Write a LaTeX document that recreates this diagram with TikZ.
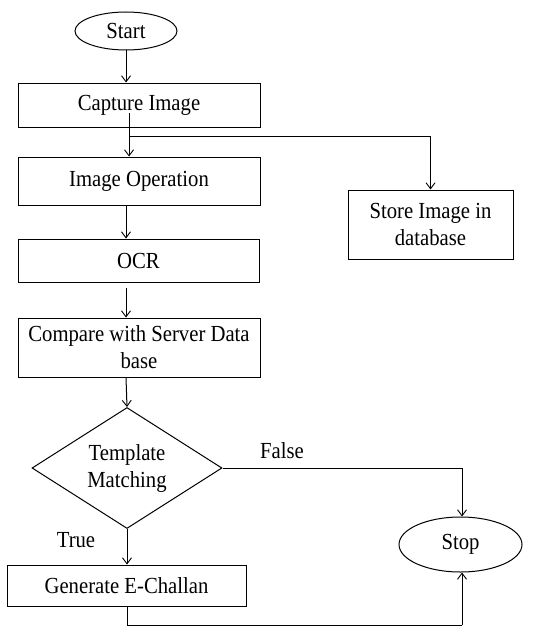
\documentclass[tikz,border=0pt]{standalone}
\usepackage{fontspec}
\setmainfont{Liberation Serif}[FakeStretch=0.9]
\usetikzlibrary{shapes.geometric,arrows.meta}
\begin{document}
\begin{tikzpicture}[x=1pt,y=-1pt,
  every node/.style={font=\fontsize{23}{27}\selectfont, inner sep=0pt, align=center},
  procbox/.style={draw, rectangle, line width=1pt},
  termnode/.style={draw, ellipse, line width=1pt},
  decision/.style={draw, diamond, line width=1pt},
  flow/.style={line width=1pt, -{Straight Barb[length=6pt,width=9pt,line width=0.9pt]}},
  link/.style={line width=1pt},
  lbl/.style={font=\fontsize{23}{27}\selectfont}]
\useasboundingbox (0,0) rectangle (550,626);

% terminals
\node[termnode, minimum width=102pt, minimum height=38pt] (start) at (126,31) {Start};
\node[termnode, minimum width=123pt, minimum height=55pt] (stop) at (460.5,544.5) {Stop};

% process boxes
\node[procbox, minimum width=242pt, minimum height=44pt] (cap) at (139,105) {Capture Image};
\node[procbox, minimum width=242pt, minimum height=48pt] (imgop) at (139,181) {Image Operation};
\node[procbox, minimum width=165pt, minimum height=69pt] (store) at (430.5,224.5) {Store Image in\\database};
\node[procbox, minimum width=241pt, minimum height=43pt] (ocr) at (138.5,260.5) {OCR};
\node[procbox, minimum width=242pt, minimum height=59pt] (cmp) at (139,347.5) {Compare with Server Data\\base};
\node[procbox, minimum width=239pt, minimum height=41pt] (gen) at (126.5,585.5) {Generate E-Challan};

% decision
\node[decision, minimum width=190pt, minimum height=121pt, aspect=1.57] (dia) at (127,468) {Template\\Matching};

% branch points
\coordinate (capsrc) at (129,113);
\coordinate (split) at (129,136);
\coordinate (falsecorner) at (462,468);
\coordinate (genout) at (127,625);
\coordinate (stopin) at (462,625);

% connectors
\draw[flow] (start.south) -- (start.south |- cap.north);
\draw[link] (capsrc) -- (split);
\draw[flow] (split) -- (split |- imgop.north);
\draw[flow] (split) -| (store.north);
\draw[flow] (imgop.south -| 126,0) -- (ocr.north -| 126,0);
\draw[flow] (126,288) -- (cmp.north -| 126,0);
\draw[flow] (cmp.south -| 126,0) -- (dia.north);
\draw[flow] (dia.south) -- (gen.north -| dia.south);
\draw[link] (dia.east) -- (falsecorner);
\draw[flow] (falsecorner) -- (stop.north -| falsecorner);
\draw[link] (gen.south -| genout) -- (genout) -- (stopin);
\draw[flow] (stopin) -- (stop.south -| stopin);

% branch labels
\node[lbl] (lfalse) at (282,451) {False};
\node[lbl] (ltrue) at (76,540) {True};
\end{tikzpicture}
\end{document}
